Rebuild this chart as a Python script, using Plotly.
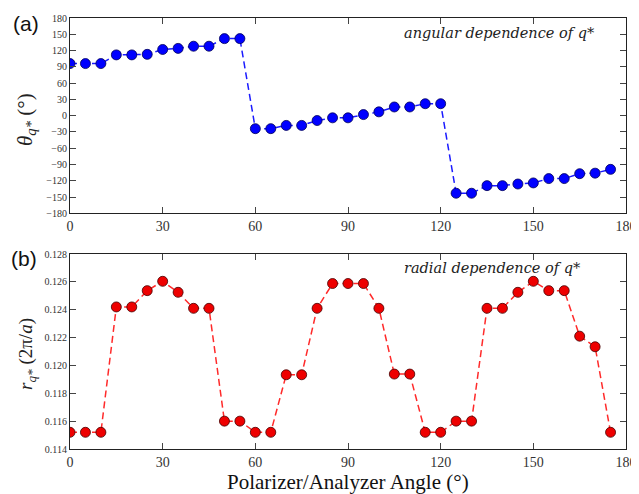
import plotly.graph_objects as go
from plotly.subplots import make_subplots

angles = list(range(0, 180, 5))
theta_q = [96, 96, 96, 112, 112, 113, 122, 124, 128, 128, 142, 142,
           -24, -24, -18, -18, -9, -4, -4, 2, 7, 16, 16, 22, 22,
           -143, -143, -129, -129, -126, -124, -116, -116, -107, -106, -99]
r_q = [0.1152, 0.1152, 0.1152, 0.1242, 0.1242, 0.12537, 0.12604, 0.12525, 0.1241, 0.1241,
       0.1160, 0.1160, 0.1152, 0.1152, 0.11933, 0.11933, 0.1241, 0.12588, 0.12588, 0.12588,
       0.1241, 0.11938, 0.11938, 0.1152, 0.1152, 0.1160, 0.1160, 0.1241, 0.1241, 0.12525,
       0.12604, 0.12537, 0.12537, 0.1221, 0.12134, 0.1152]
x_ticks = [0, 30, 60, 90, 120, 150, 180]
theta_ticks = list(range(-180, 181, 30))
r_ticks = [0.114, 0.116, 0.118, 0.120, 0.122, 0.124, 0.126, 0.128]

SERIF = "Liberation Serif"
ITAL = "DejaVu Serif"

# page body has an 8px default margin; size the figure so it fills the 639x494 window
W, H = 631, 486
PL, PT, PR, PB = 62, 10, 13, 45  # plot area in window: x 70..626, y 18..449
PW = W - PL - PR
PH = H - PT - PB


def px(X):
    return (X - 70) / PW


def py(Y):
    return (449 - Y) / PH


fig = make_subplots(rows=2, cols=1, vertical_spacing=0.0)

fig.add_trace(go.Scatter(
    x=angles, y=theta_q, mode="lines+markers",
    line=dict(color="#1a1aff", width=1.5, dash="7px,4px"),
    marker=dict(color="#0000ff", size=10, line=dict(color="#000055", width=0.8)),
    showlegend=False), row=1, col=1)

fig.add_trace(go.Scatter(
    x=angles, y=r_q, mode="lines+markers",
    line=dict(color="#ff2a2a", width=1.5, dash="7px,4px"),
    marker=dict(color="#ee0000", size=10, line=dict(color="#440000", width=0.8)),
    showlegend=False), row=2, col=1)

axis_common = dict(showline=True, linecolor="#222", linewidth=1, mirror="ticks",
                   ticks="inside", ticklen=6, tickcolor="#444", showgrid=False,
                   zeroline=False, automargin=False)

fig.update_xaxes(range=[0, 180], tickvals=x_ticks, tickfont=dict(family=SERIF, size=14, color="#333"),
                 domain=[0, 1], **axis_common)
fig.update_yaxes(row=1, col=1, domain=[py(213.3), 1.0], range=[-180, 180], tickvals=theta_ticks,
                 tickfont=dict(family=SERIF, size=10, color="#333"), **axis_common)
fig.update_yaxes(row=2, col=1, domain=[0.0, py(254)], range=[0.114, 0.128], tickvals=r_ticks,
                 tickformat=".3f", tickfont=dict(family=SERIF, size=10, color="#333"), **axis_common)

# axis titles
fig.add_annotation(text="<i>θ<sub>q*</sub></i> (°)", xref="paper", yref="paper",
                   x=px(26), y=py(120), xanchor="center", yanchor="middle",
                   textangle=-90, showarrow=False, font=dict(family=SERIF, size=21, color="#222"))
fig.add_annotation(text="<i>r<sub>q*</sub></i> (2π/<i>a</i>)", xref="paper", yref="paper",
                   x=px(27), y=py(354), xanchor="center", yanchor="middle",
                   textangle=-90, showarrow=False, font=dict(family=SERIF, size=19, color="#222"))
fig.add_annotation(text="Polarizer/Analyzer Angle (°)", xref="paper", yref="paper",
                   x=px(347.5), y=py(482), xanchor="center", yanchor="middle",
                   showarrow=False, font=dict(family=SERIF, size=21, color="#111"))

fig.add_annotation(text="<i>angular dependence of q*</i>", xref="paper", yref="paper",
                   x=px(597), y=py(33), xanchor="right", yanchor="middle",
                   showarrow=False, font=dict(family=ITAL, size=14.5, color="#222"))
fig.add_annotation(text="<i>radial dependence of q*</i>", xref="paper", yref="paper",
                   x=px(583), y=py(268), xanchor="right", yanchor="middle",
                   showarrow=False, font=dict(family=ITAL, size=14.5, color="#222"))
fig.add_annotation(text="(a)", xref="paper", yref="paper", x=px(26), y=py(23),
                   xanchor="center", yanchor="middle", showarrow=False,
                   font=dict(family="Liberation Sans", size=21, color="#111"))
fig.add_annotation(text="(b)", xref="paper", yref="paper", x=px(24), y=py(259),
                   xanchor="center", yanchor="middle", showarrow=False,
                   font=dict(family="Liberation Sans", size=21, color="#111"))

fig.update_layout(width=W, height=H, margin=dict(l=PL, r=PR, t=PT, b=PB, autoexpand=False),
                  plot_bgcolor="white", paper_bgcolor="white")

fig.write_html("out.html")
